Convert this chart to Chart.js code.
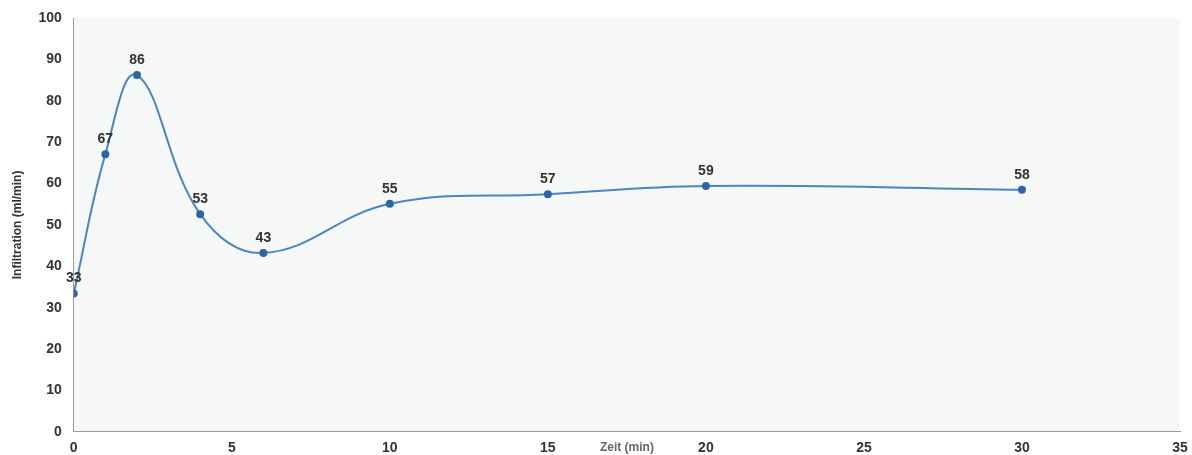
<!DOCTYPE html>
<html>
<head>
<meta charset="utf-8">
<script src="https://cdn.jsdelivr.net/npm/chart.js@4/dist/chart.umd.min.js"></script>
<style>
  html, body { margin: 0; padding: 0; background: #ffffff; }
  #wrap { width: 1192px; height: 455px; }
</style>
</head>
<body>
<div id="wrap"><canvas id="infChart"></canvas></div>
<script>
// Zeit (min) und Infiltration (ml/min)
const zeit = [0, 1, 2, 4, 6, 10, 15, 20, 30];
const infiltration = [33.4, 67.1, 86.2, 52.6, 43.2, 55.1, 57.4, 59.4, 58.5];
const labelText = ['33', '67', '86', '53', '43', '55', '57', '59', '58'];

const points = zeit.map((z, i) => ({ x: z, y: infiltration[i] }));

// Hintergrund der Zeichenfläche
const plotBg = {
	id: 'plotBg',
	beforeDraw(chart) {
		const a = chart.chartArea;
		const ctx = chart.ctx;
		ctx.save();
		ctx.fillStyle = '#f6f7f7';
		ctx.fillRect(a.left, a.top, a.right - a.left, a.bottom - a.top);
		ctx.restore();
	}
};

// Werte über den Punkten
const valueLabels = {
	id: 'valueLabels',
	afterDatasetsDraw(chart) {
		const ctx = chart.ctx;
		const meta = chart.getDatasetMeta(0);
		ctx.save();
		ctx.font = 'bold 14px "Liberation Sans", Arial, sans-serif';
		ctx.fillStyle = '#333333';
		ctx.textAlign = 'center';
		ctx.textBaseline = 'bottom';
		meta.data.forEach((pt, i) => {
			ctx.fillText(labelText[i], pt.x, pt.y - 8);
		});
		ctx.restore();
	}
};

var myChart = new Chart(document.getElementById('infChart').getContext('2d'), {
	type: 'line',
	data: {
		datasets: [{
			label: 'Infiltration',
			data: points,
			borderColor: '#4a86c4',
			borderWidth: 2,
			tension: 0.4,
			pointRadius: 3,
			pointBackgroundColor: '#2f64a6',
			pointBorderColor: '#2f64a6',
			fill: false
		}]
	},
	options: {
		responsive: true,
		maintainAspectRatio: false,
		animation: false,
		layout: { padding: { left: 10, top: 18, right: 12, bottom: 0 } },
		plugins: {
			legend: { display: false },
			tooltip: { enabled: false }
		},
		scales: {
			x: {
				type: 'linear',
				min: 0,
				max: 35,
				ticks: {
					stepSize: 5,
					color: '#333333',
					padding: 4,
					font: { family: '"Liberation Sans", Arial, sans-serif', size: 14, weight: 'bold' }
				},
				grid: { display: false, drawTicks: true, tickLength: 4 },
				border: { color: '#9a9a9a' },
				title: {
					display: true,
					text: 'Zeit (min)',
					color: '#666666',
					padding: { top: -20, bottom: 0 },
					font: { family: '"Liberation Sans", Arial, sans-serif', size: 12, weight: 'bold' }
				}
			},
			y: {
				min: 0,
				max: 100,
				ticks: {
					stepSize: 10,
					color: '#333333',
					padding: 8,
					font: { family: '"Liberation Sans", Arial, sans-serif', size: 14, weight: 'bold' }
				},
				grid: { display: false, tickLength: 4 },
				border: { color: '#9a9a9a' },
				title: {
					display: true,
					text: 'Infiltration (ml/min)',
					color: '#333333',
					padding: { top: 0, bottom: 6 },
					font: { family: '"Liberation Sans", Arial, sans-serif', size: 12, weight: 'bold' }
				}
			}
		}
	},
	plugins: [plotBg, valueLabels]
});
</script>
</body>
</html>
